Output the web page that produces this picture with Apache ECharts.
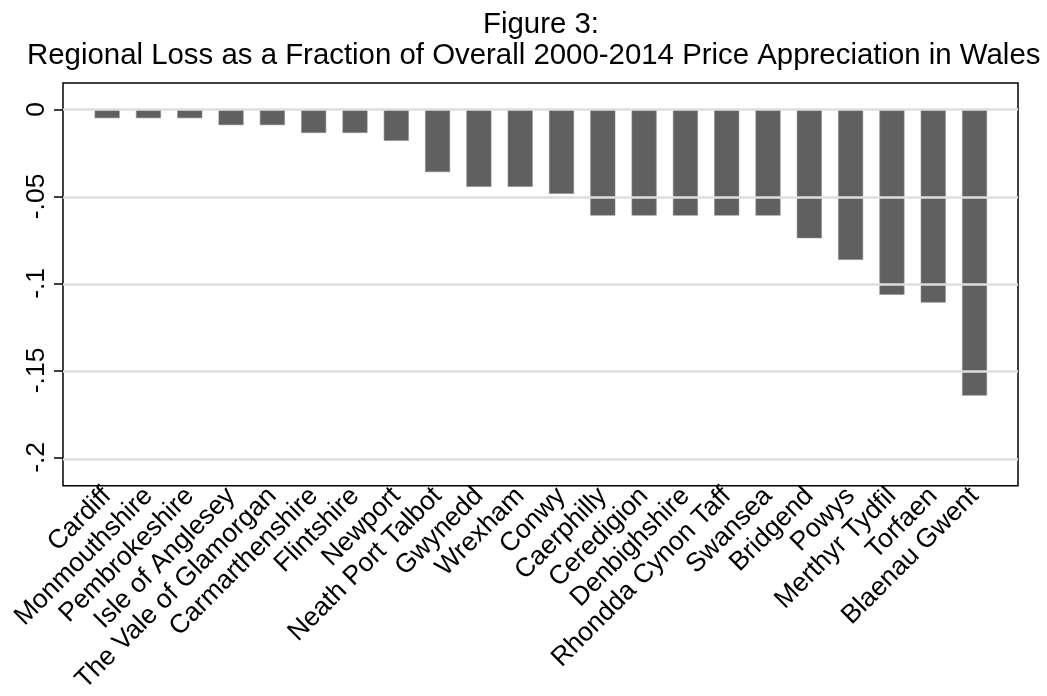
<!DOCTYPE html>
<html>
<head>
<meta charset="utf-8">
<script src="https://cdn.jsdelivr.net/npm/echarts@6/dist/echarts.min.js"></script>
<style>
  html, body { margin: 0; padding: 0; background: #fff; }
  #chart { width: 1047px; height: 696px; }
</style>
</head>
<body>
<div id="chart"></div>
<script>
// regions, sorted by loss
var regions = [
  "Cardiff", "Monmouthshire", "Pembrokeshire", "Isle of Anglesey",
  "The Vale of Glamorgan", "Carmarthenshire", "Flintshire", "Newport",
  "Neath Port Talbot", "Gwynedd", "Wrexham", "Conwy", "Caerphilly",
  "Ceredigion", "Denbighshire", "Rhondda Cynon Taff", "Swansea",
  "Bridgend", "Powys", "Merthyr Tydfil", "Torfaen", "Blaenau Gwent"
];
var lossValues = [
  -0.005, -0.005, -0.005, -0.009,
  -0.009, -0.0135, -0.0135, -0.018,
  -0.036, -0.0445, -0.0445, -0.0485, -0.061,
  -0.061, -0.061, -0.061, -0.061,
  -0.074, -0.0865, -0.1065, -0.111, -0.1645
];
var yTicks = [0, -0.05, -0.1, -0.15, -0.2];
var yTickLabels = ["0", "-.05", "-.1", "-.15", "-.2"];

var FONT = "Liberation Sans, Arial, sans-serif";
var Y_MIN = -0.2153, Y_MAX = 0.0152;
var chart = echarts.init(document.getElementById("chart"), null, { renderer: "canvas" });

var titleStyle = {
  fontFamily: FONT,
  fontSize: 29.4,
  fontWeight: "normal",
  color: "#000"
};

var option = {
  backgroundColor: "#fff",
  animation: false,
  title: [
    { text: "Figure 3:", left: 478, top: 5, textStyle: titleStyle },
    { text: "Regional Loss as a Fraction of Overall 2000-2014 Price Appreciation in Wales",
      left: 22, top: 36, textStyle: titleStyle }
  ],
  grid: [
    // data grid (inset from the frame like stata)
    { left: 86.5, right: 51.8, top: 83, bottom: 210.3 },
    // frame
    { left: 63, right: 29, top: 83, bottom: 210.3, show: true,
      borderColor: "#000", borderWidth: 1.5, backgroundColor: "transparent" }
  ],
  xAxis: [
    {
      type: "category",
      gridIndex: 0,
      data: regions,
      axisLine: { show: false },
      axisTick: { show: false },
      axisLabel: {
        interval: 0,
        rotate: 45,
        margin: 8,
        fontFamily: FONT,
        fontSize: 26.5,
        color: "#000"
      }
    },
    { type: "value", gridIndex: 1, show: false, min: 0, max: 1 }
  ],
  yAxis: [
    {
      type: "value",
      gridIndex: 0,
      min: Y_MIN,
      max: Y_MAX,
      offset: 23.5,
      axisLine: { show: false },
      splitLine: { show: false },
      axisTick: {
        show: true,
        length: 9,
        customValues: yTicks,
        lineStyle: { color: "#000", width: 1.5 }
      },
      axisLabel: {
        customValues: yTicks,
        rotate: 90,
        margin: 13,
        fontFamily: FONT,
        fontSize: 26.5,
        color: "#000",
        formatter: function (v) {
          var i = yTicks.findIndex(function (t) { return Math.abs(t - v) < 1e-9; });
          return i >= 0 ? yTickLabels[i] : "";
        }
      }
    },
    { type: "value", gridIndex: 1, show: false, min: Y_MIN, max: Y_MAX }
  ],
  series: [
    {
      // grid lines across the whole frame
      type: "line",
      xAxisIndex: 1,
      yAxisIndex: 1,
      data: [],
      z: 0,
      markLine: {
        silent: true,
        symbol: "none",
        label: { show: false },
        lineStyle: { color: "#dedede", width: 2.5, type: "solid" },
        data: yTicks.map(function (t) { return { yAxis: t }; })
      }
    },
    {
      type: "bar",
      xAxisIndex: 0,
      yAxisIndex: 0,
      data: lossValues,
      barWidth: 25,
      z: 2,
      itemStyle: { color: "#606060", borderColor: "#888", borderWidth: 0.6 }
    }
  ]
};
chart.setOption(option);
</script>
</body>
</html>
